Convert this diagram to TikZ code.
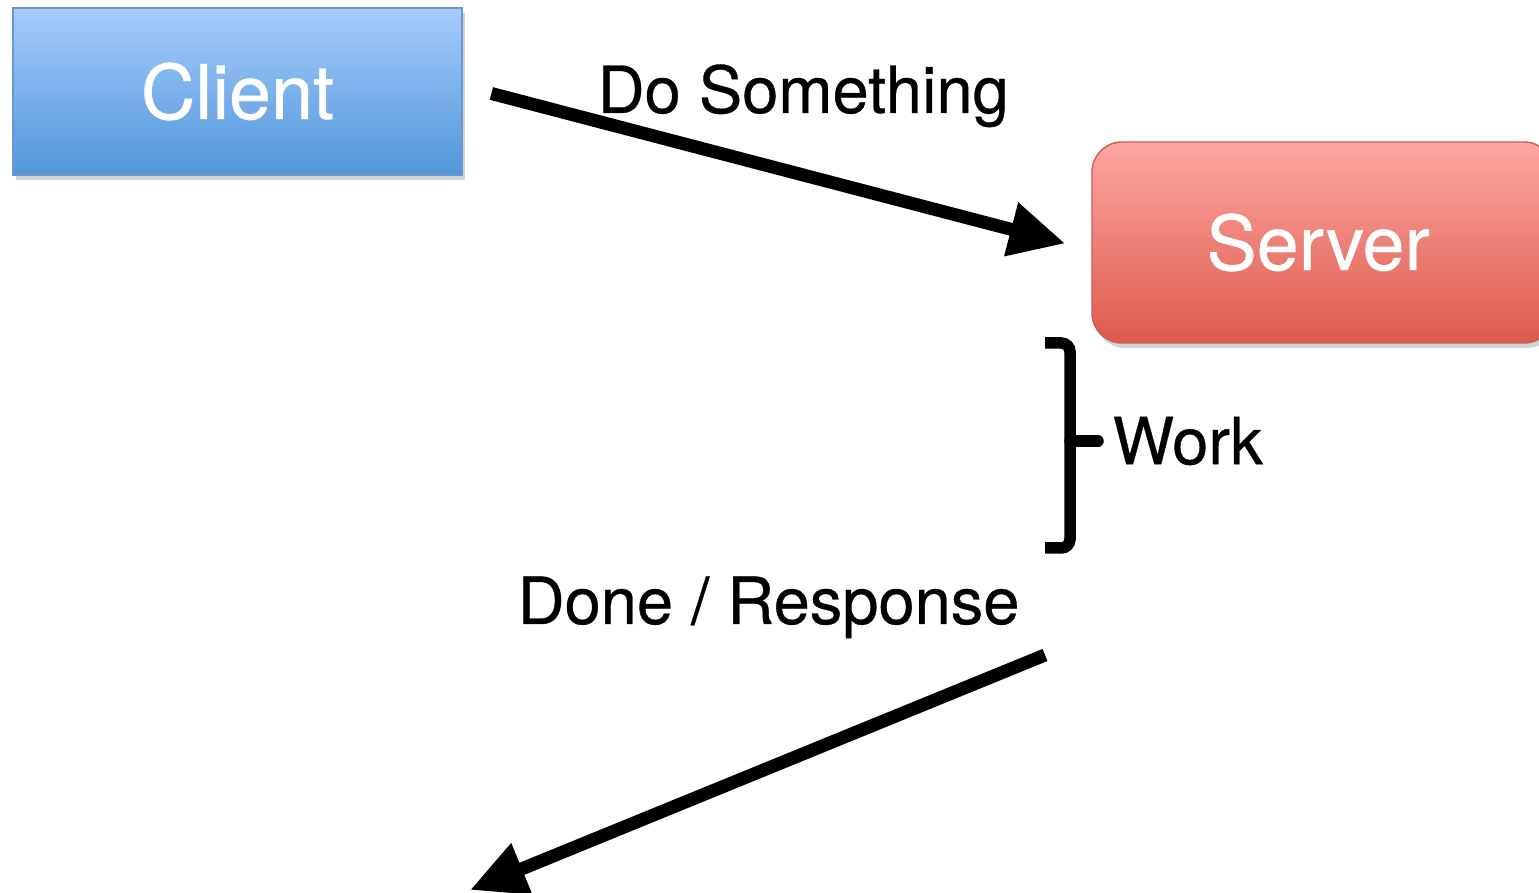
\documentclass[tikz,border=0pt]{standalone}
\usepackage{fontspec}
\setmainfont{TeX Gyre Heros}
\newfontfamily\labelfont[FakeBold=0.5]{TeX Gyre Heros}
\usetikzlibrary{arrows.meta}
\usetikzlibrary{shadows}
\definecolor{client_top}{RGB}{166,204,252}
\definecolor{client_bottom}{RGB}{81,150,218}
\definecolor{client_line}{RGB}{104,152,206}
\definecolor{server_top}{RGB}{253,167,161}
\definecolor{server_bottom}{RGB}{222,90,76}
\definecolor{server_line}{RGB}{204,92,82}
\tikzset{
	box/.style = {
		align=center,
		inner sep=0pt,
		text=white,
		font=\labelfont\fontsize{21.5}{24}\selectfont,
		drop shadow={opacity=0.35, shadow xshift=0.03cm, shadow yshift=-0.05cm}
	},
	box_client/.style = {
		box,
		rectangle,
		draw=client_line,
		thick,
		top color=client_top,
		bottom color=client_bottom,
		minimum width=4.49cm,
		minimum height=1.67cm
	},
	box_server/.style = {
		box,
		rectangle,
		rounded corners=0.3cm,
		draw=server_line,
		thin,
		top color=server_top,
		bottom color=server_bottom,
		minimum width=4.62cm,
		minimum height=2.01cm
	},
	label_text/.style = {
		inner sep=0pt,
		font=\labelfont\fontsize{18.5}{22}\selectfont
	},
	msg_arrow/.style = {
		line width=0.13cm,
		-{Triangle[length=0.56cm,width=0.52cm]}
	},
	brace_line/.style = {
		line width=0.115cm,
		rounded corners=2.5pt
	}
}
\begin{document}
\begin{tikzpicture}
\useasboundingbox (0,0) rectangle (15.39,-8.93);
% the two parties
\node [box_client] (client) at (2.375,-0.915) {Client};
\node [box_server] (server) at (13.23,-2.425) {\hspace*{-0.1cm}Server};
% labels
\node [label_text, anchor=base west] (dosomething) at (5.97,-1.13) {Do Something};
\node [label_text, anchor=west] (work) at (11.12,-4.41) {Work};
\node [label_text, anchor=base west] (done) at (5.17,-6.24) {Done / Response};
% request and response
\coordinate (req_start) at ([xshift=0.28cm,yshift=-0.02cm]client.east);
\coordinate (req_end) at ([xshift=-0.26cm,yshift=-0.01cm]server.west);
\coordinate (resp_start) at (10.45,-6.55);
\coordinate (resp_end) at (4.70,-8.90);
\draw [msg_arrow] (req_start) -- (req_end);
\draw [msg_arrow] (resp_start) -- (resp_end);
% work bracket
\coordinate (brace_top) at (10.45,-3.43);
\coordinate (brace_bot) at (10.45,-5.48);
\coordinate (brace_mid) at (10.70,-4.41);
\draw [brace_line] (brace_top) -| (brace_mid) |- (brace_bot);
\draw [line width=0.115cm, line cap=round] (brace_mid) -- ([xshift=-0.14cm]work.west);
\end{tikzpicture}
\end{document}
